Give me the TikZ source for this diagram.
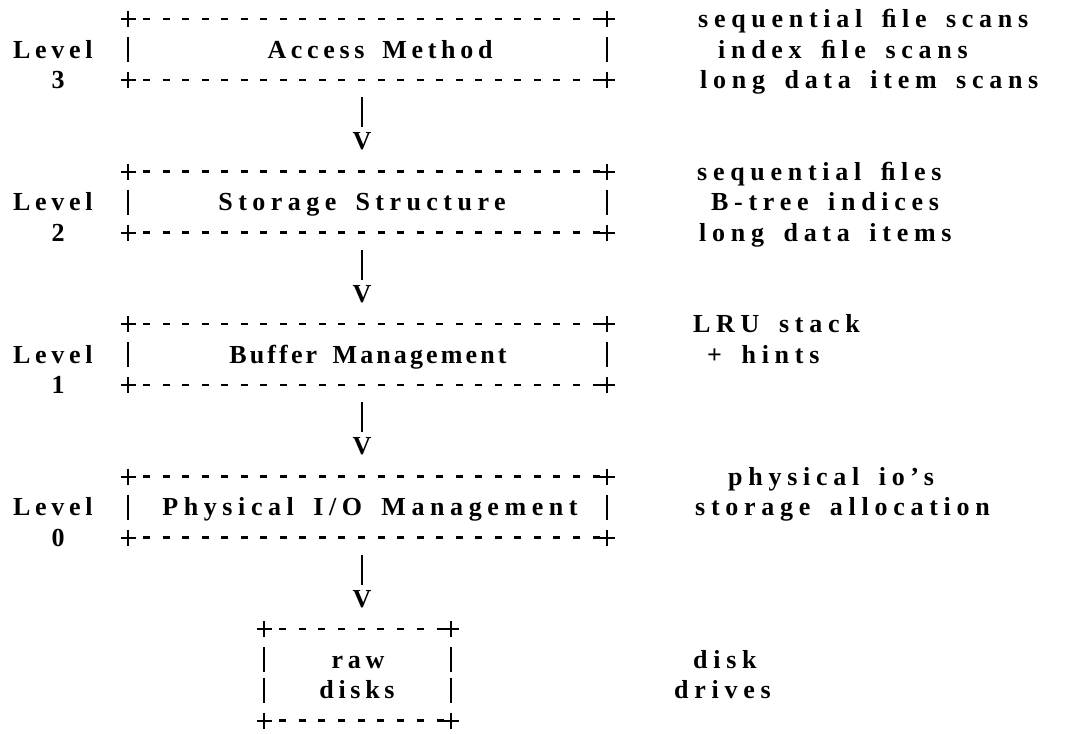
\documentclass[tikz,border=0pt]{standalone}
\usepackage{fontspec}
\setmainfont{Liberation Serif}
\newfontfamily\lsfont[LetterSpace=18,WordSpace=1.6]{Liberation Serif}
\newfontfamily\lswide[LetterSpace=22,WordSpace=1.6]{Liberation Serif}
\newfontfamily\lsphys[LetterSpace=21.5,WordSpace=1.6]{Liberation Serif}
\newfontfamily\lsstor[LetterSpace=21,WordSpace=1.6]{Liberation Serif}
\newfontfamily\lsbuf[LetterSpace=12,WordSpace=1.6]{Liberation Serif}
\newcommand{\plusmark}[2]{\draw[stroke] (#1-7.5,#2) -- (#1+7.5,#2) (#1,#2-8) -- (#1,#2+8);}
\newcommand{\sidebar}[2]{\draw[sidestroke] (#1,#2-12.5) -- (#1,#2+12.5);}
% #1 xleft #2 xright #3 y #4 number of dashes
\newcommand{\dashrow}[4]{%
  \pgfmathsetmacro{\dstart}{#1+15}%
  \pgfmathsetmacro{\dper}{((#2-7.5-7)-\dstart)/(#4-1)}%
  \pgfmathtruncatemacro{\dlast}{#4-1}%
  \foreach \i in {0,...,\dlast}{\draw[dashseg] ({\dstart+\i*\dper},#3) -- ++(7,0);}%
  \plusmark{#1}{#3}\plusmark{#2}{#3}}
\begin{document}
\begin{tikzpicture}[x=1pt,y=-1pt,
  stroke/.style={line width=2pt},
  sidestroke/.style={line width=2.3pt},
  dashseg/.style={line width=2.8pt},
  fsz/.style={font=#1\bfseries\fontsize{26}{30}\selectfont},
  lbl/.style={fsz=\lsfont, inner sep=0pt, anchor=base},
  lblw/.style={lbl, anchor=base west},
  rtxt/.style={fsz=\lswide, inner sep=0pt, anchor=base west},
]
\useasboundingbox (0,0) rectangle (1069,734);
\fill[white] (0,0) rectangle (1069,734);
% rows: y_k = 19 + 30.5 k ; baseline = row + 8.5
% ---------- Level 3 ----------
\dashrow{128}{607}{19}{24}
\dashrow{128}{607}{80}{24}
\sidebar{128}{49.5}\sidebar{607}{49.5}
\node[lbl] (b3) at (380,58) {Access Method};
\node[lblw] (lv3) at (13,58) {Level};
\node[lbl] (n3) at (58,88.5) {3};
\node[rtxt] (r3a) at (698,27.5) {sequential ﬁle scans};
\node[rtxt] (r3b) at (718,58) {index ﬁle scans};
\node[rtxt] (r3c) at (700,88.5) {long data item scans};
\coordinate (a3) at (362,97);
\node[lbl] (v3) at (362,149.5) {V};
\draw[sidestroke, shorten >=5pt] (a3) -- (v3.north);
% ---------- Level 2 ----------
\dashrow{128}{607}{171.5}{24}
\dashrow{128}{607}{232.5}{24}
\sidebar{128}{202}\sidebar{607}{202}
\node[lbl, fsz=\lsstor] (b2) at (362,210.5) {Storage Structure};
\node[lblw] (lv2) at (13,210.5) {Level};
\node[lbl] (n2) at (58,241) {2};
\node[rtxt] (r2a) at (697,180) {sequential ﬁles};
\node[rtxt] (r2b) at (711,210.5) {B-tree indices};
\node[rtxt] (r2c) at (699,241) {long data items};
\coordinate (a2) at (362,249.5);
\node[lbl] (v2) at (362,302) {V};
\draw[sidestroke, shorten >=5pt] (a2) -- (v2.north);
% ---------- Level 1 ----------
\dashrow{128}{607}{324}{24}
\dashrow{128}{607}{385}{24}
\sidebar{128}{354.5}\sidebar{607}{354.5}
\node[lbl, fsz=\lsbuf] (b1) at (368,363) {Buffer Management};
\node[lblw] (lv1) at (13,363) {Level};
\node[lbl] (n1) at (58,393.5) {1};
\node[rtxt] (r1a) at (693,332.5) {LRU stack};
\node[rtxt] (r1b) at (707,363) {+ hints};
\coordinate (a1) at (362,402);
\node[lbl] (v1) at (362,454.5) {V};
\draw[sidestroke, shorten >=5pt] (a1) -- (v1.north);
% ---------- Level 0 ----------
\dashrow{128}{607}{476.5}{24}
\dashrow{128}{607}{537.5}{24}
\sidebar{128}{507}\sidebar{607}{507}
\node[lbl, fsz=\lsphys] (b0) at (370,515.5) {Physical I/O Management};
\node[lblw] (lv0) at (13,515.5) {Level};
\node[lbl] (n0) at (58,546) {0};
\node[rtxt] (r0a) at (728,485) {physical io’s};
\node[rtxt] (r0b) at (695,515.5) {storage allocation};
\coordinate (a0) at (362,554.5);
\node[lbl] (v0) at (362,607) {V};
\draw[sidestroke, shorten >=5pt] (a0) -- (v0.north);
% ---------- raw disks ----------
\dashrow{264}{451}{629}{9}
\dashrow{264}{451}{720.5}{9}
\sidebar{264}{659.5}\sidebar{451}{659.5}
\sidebar{264}{690}\sidebar{451}{690}
\node[lbl] (d1) at (358,668) {raw};
\node[lbl] (d2) at (357,698.5) {disks};
\node[rtxt] (rd1) at (693,668) {disk};
\node[rtxt] (rd2) at (674,698.5) {drives};
\end{tikzpicture}
\end{document}
